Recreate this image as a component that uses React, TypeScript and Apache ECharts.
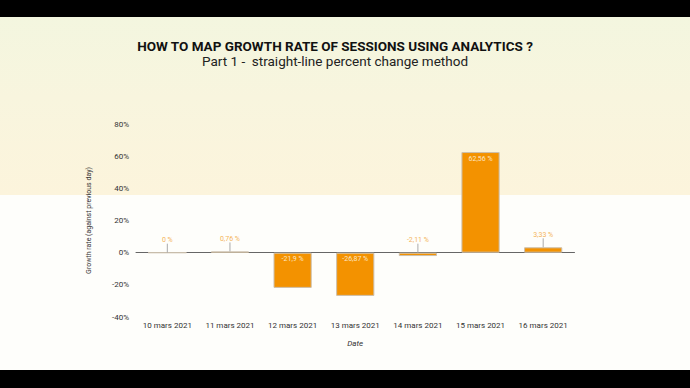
import React, { useEffect, useRef } from "react";
import * as echarts from "echarts";

const categories = [
  "10 mars 2021",
  "11 mars 2021",
  "12 mars 2021",
  "13 mars 2021",
  "14 mars 2021",
  "15 mars 2021",
  "16 mars 2021",
];
const growth = [0, 0.76, -21.9, -26.87, -2.11, 62.56, 3.33];
const titleText = "HOW TO MAP GROWTH RATE OF SESSIONS USING ANALYTICS ?";
const subtitleText = "Part 1 -  straight-line percent change method";
const yAxisName = "Growth rate (against previous day)";
const xAxisName = "Date";

const fmt = (v: number) => String(v).replace(".", ",") + " %";
const FONT = "Roboto, 'Noto Sans', sans-serif";

export default function App() {
  const ref = useRef<HTMLDivElement>(null);
  useEffect(() => {
    if (!ref.current) return;
    const chart = echarts.init(ref.current, null, { renderer: "svg" });
    chart.setOption({
      animation: false,
      backgroundColor: "#fefefb",
      textStyle: { fontFamily: FONT },
      graphic: [
        {
          type: "rect",
          z: -10,
          silent: true,
          shape: { x: 0, y: 17, width: 690, height: 178 },
          style: {
            fill: new echarts.graphic.LinearGradient(0, 0, 0, 1, [
              { offset: 0, color: "#f3f6df" },
              { offset: 0.45, color: "#f8f5de" },
              { offset: 1, color: "#fcf4dc" },
            ]),
          },
        },
        { type: "rect", z: 10, silent: true, shape: { x: 0, y: 0, width: 690, height: 17 }, style: { fill: "#000" } },
        { type: "rect", z: 10, silent: true, shape: { x: 0, y: 370, width: 690, height: 18 }, style: { fill: "#000" } },
      ],
      title: [
        {
          text: titleText,
          left: 330,
          top: 34,
          textAlign: "center",
          textStyle: { fontFamily: FONT, fontSize: 13.5, fontWeight: "bold", color: "#111" },
        },
        {
          text: subtitleText,
          left: 330,
          top: 49,
          textAlign: "center",
          textStyle: { fontFamily: FONT, fontSize: 13.5, fontWeight: "normal", color: "#222" },
        },
      ],
      grid: { left: 136, right: 115.5, top: 124, bottom: 71 },
      xAxis: {
        type: "category",
        data: categories,
        axisLine: { show: true, onZero: true, lineStyle: { color: "#666", width: 1 } },
        axisTick: { show: false },
        axisLabel: {
          fontFamily: FONT,
          fontSize: 8,
          color: "#333",
          margin: 4,
          interval: 0,
        },
        name: xAxisName,
        nameLocation: "middle",
        nameGap: 22,
        nameTextStyle: { fontFamily: FONT, fontSize: 8, fontStyle: "italic", color: "#333" },
        position: "bottom",
      },
      yAxis: {
        type: "value",
        min: -40,
        max: 80,
        interval: 20,
        axisLine: { show: false },
        axisTick: { show: false },
        splitLine: { show: false },
        axisLabel: {
          fontFamily: FONT,
          fontSize: 8,
          color: "#333",
          margin: 7,
          formatter: (v: number) => v + "%",
        },
        name: yAxisName,
        nameLocation: "middle",
        nameGap: 44,
        nameRotate: 90,
        nameTextStyle: { fontFamily: FONT, fontSize: 7, color: "#333" },
      },
      series: [
        {
          type: "bar",
          data: growth,
          barWidth: "61%",
          itemStyle: { color: "#f39200", borderColor: "#cbbfae", borderWidth: 1 },
          label: {
            show: true,
            position: "insideTop",
            distance: 3,
            fontFamily: FONT,
            fontSize: 7,
            color: "#fde6c4",
            formatter: (p: any) => (Math.abs(p.value) > 10 ? fmt(p.value) : ""),
          },
        },
        {
          type: "custom",
          data: growth.map((v, i) => [i, v]),
          encode: { x: 0, y: 1 },
          z: 5,
          renderItem: (params: any, api: any) => {
            const i = api.value(0);
            const v = api.value(1);
            if (Math.abs(v) > 10) return null;
            const base = api.coord([i, Math.max(0, v)]);
            return {
              type: "group",
              children: [
                {
                  type: "line",
                  shape: { x1: base[0], y1: base[1], x2: base[0], y2: base[1] - 9 },
                  style: { stroke: "#aaa", lineWidth: 1 },
                },
                {
                  type: "text",
                  style: {
                    text: fmt(v),
                    x: base[0],
                    y: base[1] - 9,
                    textAlign: "center",
                    textVerticalAlign: "bottom",
                    fill: "#f4b45a",
                    fontSize: 7,
                    fontFamily: FONT,
                  },
                },
              ],
            };
          },
        },
      ],
    });
    return () => chart.dispose();
  }, []);
  return (
    <div
      ref={ref}
      style={{ position: "fixed", left: 0, top: 0, width: 690, height: 388 }}
    />
  );
}
